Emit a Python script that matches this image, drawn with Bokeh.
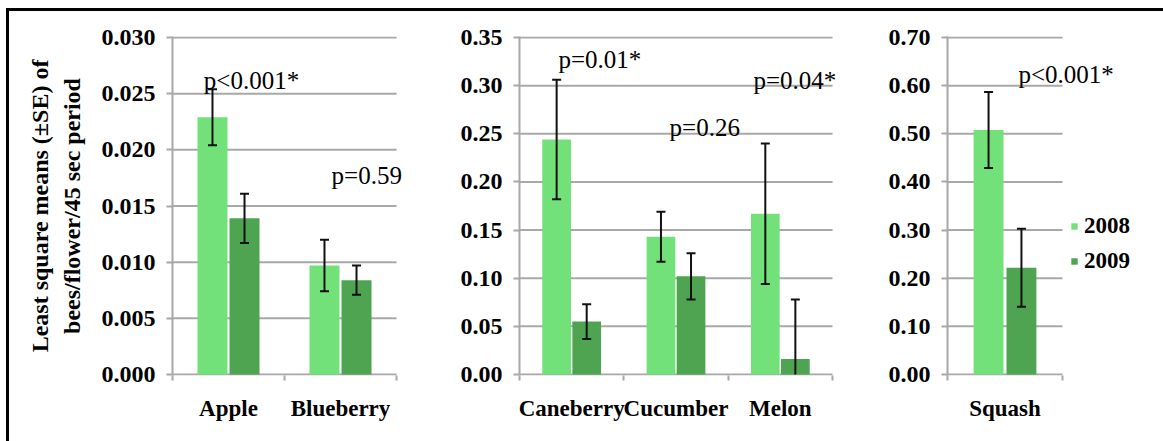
from bokeh.plotting import figure
from bokeh.models import (FixedTicker, NumeralTickFormatter, Legend,
                          LegendItem, ColumnDataSource, Range1d)
from bokeh.core.properties import value
from bokeh.layouts import row
from bokeh.embed import file_html
from bokeh.resources import INLINE

# ---------------- data ----------------
years = ["2008", "2009"]

crops_a = ["Apple", "Blueberry"]
mean08_a = [0.0229, 0.0097]
se08_a = [0.0025, 0.0023]
mean09_a = [0.0139, 0.0084]
se09_a = [0.0022, 0.0013]
pvals_a = ["p<0.001*", "p=0.59"]
yticks_a = [0.000, 0.005, 0.010, 0.015, 0.020, 0.025, 0.030]

crops_b = ["Caneberry", "Cucumber", "Melon"]
mean08_b = [0.244, 0.143, 0.167]
se08_b = [0.062, 0.026, 0.073]
mean09_b = [0.055, 0.102, 0.016]
se09_b = [0.018, 0.024, 0.062]
pvals_b = ["p=0.01*", "p=0.26", "p=0.04*"]
yticks_b = [0.00, 0.05, 0.10, 0.15, 0.20, 0.25, 0.30, 0.35]

crops_c = ["Squash"]
mean08_c = [0.508]
se08_c = [0.079]
mean09_c = [0.222]
se09_c = [0.081]
pvals_c = ["p<0.001*"]
yticks_c = [0.00, 0.10, 0.20, 0.30, 0.40, 0.50, 0.60, 0.70]

# ---------------- styles ----------------
C08 = "#72e17a"
C09 = "#4fa452"
GRID = "#a8a8a8"
SERIF = "Liberation Serif"
FIG_H = 430


def make_panel(crops, m08, s08, m09, s09, pvals, yticks, fmt, width,
               borders, frame_px, off, bw, plabel_pos, ylabel=None,
               legend_loc=None):
    bl, br, bt, bb = borders
    f_left, cat_right, f_right = frame_px
    n = len(crops)
    x_end = n * (f_right - f_left) / (cat_right - f_left)
    # 1px of room above/below so the outer grid lines are not half-clipped
    frame_h = FIG_H - bt - bb
    pad = (yticks[-1] - yticks[0]) / (frame_h - 2)
    p = figure(width=width, height=FIG_H, output_backend="svg",
               toolbar_location=None, x_range=Range1d(0, x_end),
               y_range=Range1d(yticks[0] - pad, yticks[-1] + pad),
               min_border_left=bl, min_border_right=br,
               min_border_top=bt, min_border_bottom=bb)
    p.outline_line_color = None
    p.background_fill_color = "white"
    p.border_fill_color = "white"

    # horizontal grid lines, only over the category span
    p.segment(x0=[0] * len(yticks), x1=[n] * len(yticks), y0=yticks, y1=yticks,
              line_color=GRID, line_width=2)

    centers = [i + 0.5 for i in range(n)]
    src = ColumnDataSource(dict(
        x08=[c - off for c in centers], x09=[c + off for c in centers],
        m08=m08, m09=m09,
        lo08=[max(0, m - s) for m, s in zip(m08, s08)], hi08=[m + s for m, s in zip(m08, s08)],
        lo09=[max(0, m - s) for m, s in zip(m09, s09)], hi09=[m + s for m, s in zip(m09, s09)],
        cap_lo08=[m - s for m, s in zip(m08, s08)],
        cap_lo09=[m - s for m, s in zip(m09, s09)],
    ))
    r08 = p.vbar(x="x08", top="m08", bottom=0, width=bw, source=src,
                 fill_color=C08, line_color=None)
    r09 = p.vbar(x="x09", top="m09", bottom=0, width=bw, source=src,
                 fill_color=C09, line_color=None)
    for yr in ("08", "09"):
        p.segment(x0="x" + yr, y0="lo" + yr, x1="x" + yr, y1="hi" + yr,
                  source=src, line_color="#111111", line_width=2)
        for end in ("cap_lo", "hi"):
            p.scatter(x="x" + yr, y=end + yr, source=src, marker="dash",
                      size=9, line_color="#111111", line_width=2)

    # p-value labels
    p.text(x=[xy[0] for xy in plabel_pos], y=[xy[1] for xy in plabel_pos],
           text=pvals, text_font=value(SERIF), text_font_size="25px",
           text_align="left", text_baseline="alphabetic", text_color="black")

    # axes
    p.xgrid.visible = False
    p.ygrid.visible = False
    p.yaxis.ticker = FixedTicker(ticks=yticks)
    p.yaxis.formatter = NumeralTickFormatter(format=fmt)
    p.xaxis.ticker = FixedTicker(ticks=centers, minor_ticks=list(range(n + 1)))
    p.xaxis.major_label_overrides = {c: name for c, name in zip(centers, crops)}
    for ax in (p.xaxis[0], p.yaxis[0]):
        ax.axis_line_color = GRID
        ax.axis_line_width = 2
        ax.major_tick_line_color = GRID
        ax.major_tick_line_width = 2
        ax.minor_tick_line_color = GRID
        ax.minor_tick_line_width = 2
        ax.major_label_text_font = SERIF
        ax.major_label_text_font_style = "bold"
        ax.major_label_text_color = "black"
    p.yaxis.major_label_text_font_size = "24px"
    p.xaxis.major_label_text_font_size = "23px"
    p.xaxis.axis_line_color = None
    p.yaxis.major_tick_out = 6
    p.yaxis.major_tick_in = 0
    p.yaxis.minor_tick_out = 0
    p.yaxis.minor_tick_in = 0
    p.yaxis.major_label_standoff = 11
    p.xaxis.major_tick_out = 0
    p.xaxis.major_tick_in = 0
    p.xaxis.minor_tick_out = 5
    p.xaxis.minor_tick_in = 0
    p.xaxis.major_label_standoff = 15
    if ylabel:
        p.yaxis.axis_label = ylabel
        p.yaxis.axis_label_text_font = SERIF
        p.yaxis.axis_label_text_font_style = "bold"
        p.yaxis.axis_label_text_font_size = "24px"
        p.yaxis.axis_label_text_color = "black"
        p.yaxis.axis_label_standoff = 14

    if legend_loc is not None:
        leg = Legend(items=[LegendItem(label=years[0], renderers=[r08]),
                            LegendItem(label=years[1], renderers=[r09])],
                     location=legend_loc)
        leg.glyph_width = 8
        leg.glyph_height = 8
        leg.label_standoff = 6
        leg.spacing = 9
        leg.padding = 0
        leg.margin = 0
        leg.border_line_color = None
        leg.background_fill_alpha = 0
        leg.label_text_font = SERIF
        leg.label_text_font_style = "bold"
        leg.label_text_font_size = "23px"
        leg.label_text_color = "black"
        p.add_layout(leg)
    return p


p1 = make_panel(crops_a, mean08_a, se08_a, mean09_a, se09_a, pvals_a, yticks_a,
                "0.000", 421, (163, 18, 25, 66), (172, 396, 412), 0.143, 0.268,
                [(0.28, 0.02617), (1.42, 0.01772)],
                ylabel="Least square means (\u00b1SE) of\nbees/flower/45 sec period")
p2 = make_panel(crops_b, mean08_b, se08_b, mean09_b, se09_b, pvals_b, yticks_b,
                "0.00", 440, (89, 22, 25, 62), (519, 832, 848), 0.144, 0.275,
                [(0.374, 0.3268), (1.438, 0.2566), (2.243, 0.3055)])
p3 = make_panel(crops_c, mean08_c, se08_c, mean09_c, se09_c, pvals_c, yticks_c,
                "0.00", 293, (77, 13, 22, 65), (947, 1062, 1150), 0.143, 0.26,
                [(0.617, 0.6232)], legend_loc=(123, 101))

layout = row([p1, p2, p3], spacing=0,
             styles={"margin-left": "6px", "margin-top": "8px",
                     "border-left": "3px solid black",
                     "border-top": "3px solid black"})

open("out.html", "w").write(file_html(layout, INLINE))
